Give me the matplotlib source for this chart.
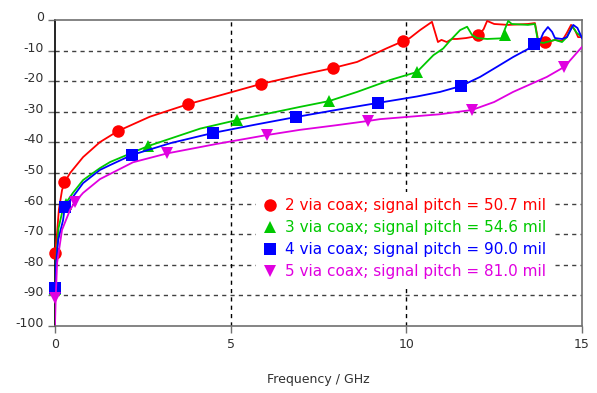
import matplotlib
matplotlib.use("Agg")
import matplotlib.pyplot as plt
from matplotlib.lines import Line2D
import matplotlib.transforms as mtransforms

# ---- data ----
red_x = [0, 0.05, 0.11, 0.2, 0.28, 0.43, 0.8, 1.28, 1.79, 2.7, 3.79, 4.8, 5.86, 6.97, 7.91, 8.6,
         9.45, 9.91, 10.1, 10.39, 10.73, 10.9, 11.0, 11.15, 11.3, 11.44, 11.7, 12.04, 12.2, 12.3,
         12.5, 12.9, 13.46, 13.66, 13.75, 13.9, 14.03, 14.23, 14.43, 14.57, 14.69, 14.8, 14.89, 15.0]
red_y = [-76, -70.9, -62, -55.6, -52.9, -50, -44.8, -39.9, -36.3, -31.6, -27.5, -24.3, -20.9, -18,
         -15.7, -13.7, -9.2, -6.9, -5.9, -3.3, -0.6, -7.2, -6.5, -7.2, -6.2, -6.2, -5.9, -5.2, -3,
         -0.3, -1.3, -1.6, -1.3, -1.0, -6.5, -7.5, -7.2, -6.5, -6.9, -4.2, -1.6, -3.3, -5.6, -5.6]
red_mx = [0, 0.26, 1.79, 3.79, 5.86, 7.91, 9.91, 12.04, 13.95]
red_my = [-76, -52.9, -36.3, -27.5, -20.9, -15.7, -6.9, -4.8, -7.2]

green_x = [0, 0.05, 0.1, 0.2, 0.3, 0.51, 0.8, 1.28, 1.57, 2.65, 4.13, 5.18, 6.97, 7.8, 8.6, 9.54,
           10.3, 10.77, 11.05, 11.24, 11.53, 11.73, 11.87, 12.01, 12.3, 12.7, 12.9, 13.0, 13.46,
           13.66, 13.75, 13.9, 14.23, 14.43, 14.57, 14.72, 14.85, 15.0]
green_y = [-88, -76, -68, -63, -60, -56.5, -52.3, -48.4, -46.4, -41.2, -35.5, -32.7, -28.4, -26.5,
           -23.5, -19.6, -17, -11.5, -9.3, -6.8, -3.3, -2.2, -4.9, -5.9, -6.2, -6.0, -0.3, -1.3,
           -1.6, -1.3, -7.2, -7.5, -6.5, -7.2, -5.6, -2.0, -4.2, -5.6]
green_mx = [0, 0.3, 2.65, 5.18, 7.8, 10.3, 12.8]
green_my = [-88, -60, -41.2, -32.7, -26.5, -17, -4.9]

blue_x = [0, 0.03, 0.09, 0.23, 0.28, 0.51, 0.8, 1.28, 1.57, 2.19, 3.3, 4.5, 5.7, 6.86, 8.0, 9.19,
          10.3, 10.96, 11.55, 12.1, 12.58, 13.04, 13.46, 13.63, 13.75, 13.9, 14.03, 14.15, 14.23,
          14.43, 14.57, 14.75, 14.87, 15.0]
blue_y = [-87.6, -80, -71.9, -65.4, -61, -57.8, -53.3, -49, -47.4, -44.1, -40.2, -36.9, -34.2,
          -31.7, -29.4, -27.1, -25, -23.5, -21.6, -18.6, -15.3, -12.1, -9.5, -7.8, -8.2, -4.2,
          -2.3, -3.9, -5.9, -6.2, -5.6, -1.6, -2.6, -5.9]
blue_mx = [0, 0.28, 2.19, 4.5, 6.86, 9.19, 11.55, 13.63]
blue_my = [-87.6, -61, -44.1, -36.9, -31.7, -27.1, -21.6, -7.8]

mag_x = [0, 0.02, 0.06, 0.2, 0.43, 0.57, 0.8, 1.28, 1.57, 2.22, 3.19, 4.6, 6.03, 6.97, 8.0, 8.91,
         9.25, 10.96, 11.87, 12.5, 13.04, 14.0, 14.5, 15.0]
mag_y = [-99.5, -91, -79.4, -68.6, -62, -59.5, -56.5, -52, -50.3, -46.5, -43.6, -40.5, -37.6,
         -35.9, -34.4, -33, -32.4, -30.8, -29.4, -26.8, -23.5, -18.6, -15.3, -8.8]
mag_mx = [0, 0.57, 3.19, 6.03, 8.91, 11.87, 14.5]
mag_my = [-90.8, -59.5, -43.6, -37.6, -33, -29.4, -15.3]

labels = ["2 via coax; signal pitch = 50.7 mil",
          "3 via coax; signal pitch = 54.6 mil",
          "4 via coax; signal pitch = 90.0 mil",
          "5 via coax; signal pitch = 81.0 mil"]
xticks = [0, 5, 10, 15]
yticks = [0, -10, -20, -30, -40, -50, -60, -70, -80, -90, -100]
xlabel = "Frequency / GHz"

# ---- styling ----
colors = ["#ff0000", "#00c800", "#0000ff", "#e000e0"]
markers = ["o", "^", "s", "v"]
series = [(red_x, red_y, red_mx, red_my),
          (green_x, green_y, green_mx, green_my),
          (blue_x, blue_y, blue_mx, blue_my),
          (mag_x, mag_y, mag_mx, mag_my)]

fig = plt.figure(figsize=(5.97, 3.93), dpi=100)
ax = fig.add_axes([55 / 597, 1 - 326 / 393, 527 / 597, 306 / 393])

for i, ((lx, ly, mx, my), c, m) in enumerate(zip(series, colors, markers)):
    ax.plot(lx, ly, color=c, lw=1.3, zorder=3 + i * 0.1)
    ax.plot(mx, my, linestyle="none", marker=m, color=c, markersize=9,
            markeredgewidth=0, zorder=3.05 + i * 0.1, clip_on=False)

ax.set_xlim(0, 15)
ax.set_ylim(-100, 0)
ax.set_xticks(xticks)
ax.set_xticklabels([str(v) for v in xticks])
ax.set_yticks(yticks)
ax.set_yticklabels([str(v) for v in yticks])

for y in yticks[1:-1]:
    ax.axhline(y, color="#404040", lw=1, ls=(0, (3, 3)), zorder=1)
for x in [5, 10]:
    ax.axvline(x, color="#000000", lw=1, ls=(0, (3, 3)), zorder=1)

ax.spines["left"].set_color("#000000")
for s in ["top", "right", "bottom"]:
    ax.spines[s].set_color("#707070")
for s in ax.spines.values():
    s.set_linewidth(1.2)

ax.tick_params(axis="both", labelsize=9, labelcolor="#303030", color="#707070",
               length=5, width=1)
ax.tick_params(axis="y", pad=3)
ax.tick_params(axis="x", pad=4)

offset = mtransforms.ScaledTranslation(0, 4 / 100, fig.dpi_scale_trans)
for lab in ax.get_yticklabels():
    lab.set_transform(lab.get_transform() + offset)

fig.text(318 / 597, 1 - 380 / 393, xlabel, ha="center", va="center", fontsize=9, color="#303030")

handles = [Line2D([], [], linestyle="none", marker=m, color=c, markersize=9, markeredgewidth=0)
           for m, c in zip(markers, colors)]
leg = ax.legend(handles, labels, loc="upper left", bbox_to_anchor=(0.382, 0.437),
                borderaxespad=0, frameon=True, fancybox=False, fontsize=11, labelcolor=colors,
                handlelength=1.0, handletextpad=0.5, labelspacing=0.46, borderpad=0.4)
leg.get_frame().set_facecolor("white")
leg.get_frame().set_edgecolor("none")
leg.get_frame().set_alpha(1)
leg.set_zorder(5)

fig.savefig("out.png", dpi=100, facecolor="white")
